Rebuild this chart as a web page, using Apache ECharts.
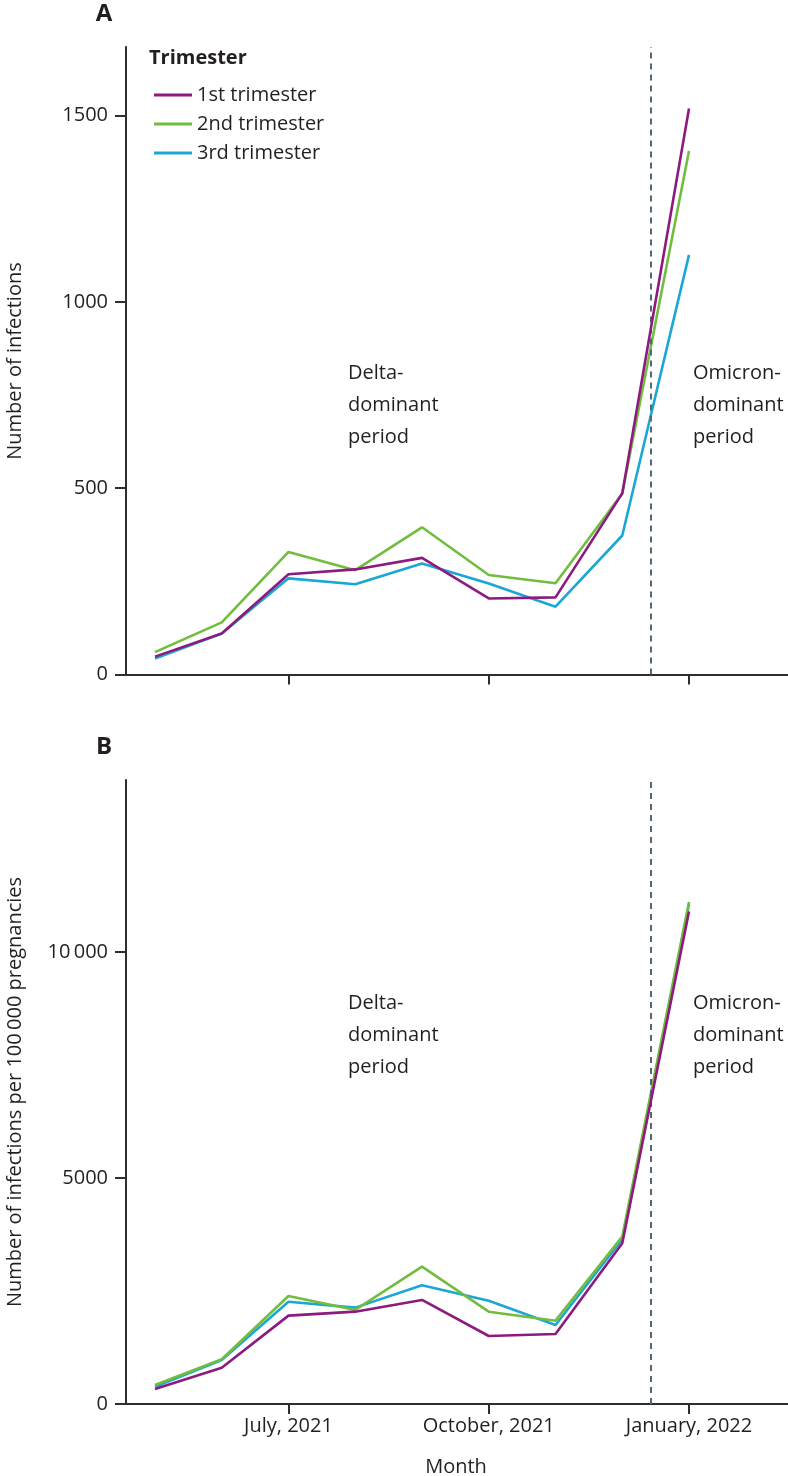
<!DOCTYPE html>
<html>
<head>
<meta charset="utf-8">
<script src="https://cdn.jsdelivr.net/npm/echarts@6/dist/echarts.min.js"></script>
<style>
html,body{margin:0;padding:0;background:#fff;}
#chart{width:788px;height:1476px;}
</style>
</head>
<body>
<div id="chart"></div>
<script>
// Months (one point per month)
const months = ['May 2021','Jun 2021','Jul 2021','Aug 2021','Sep 2021','Oct 2021','Nov 2021','Dec 2021','Jan 2022'];
const tickMonthIdx = [2, 5, 8];
const tickLabels = ['July, 2021', 'October, 2021', 'January, 2022'];
const seriesNames = ['1st trimester', '2nd trimester', '3rd trimester'];

// Panel A: number of infections
const infFirst  = [48, 110, 269, 282, 313, 204, 207, 486, 1519];
const infSecond = [60, 140, 329, 280, 395, 267, 245, 486, 1405];
const infThird  = [43, 110, 258, 242, 298, 244, 182, 373, 1126];

// Panel B: number of infections per 100 000 pregnancies
const rateFirst  = [332, 803, 1954, 2042, 2301, 1504, 1549, 3555, 10891];
const rateSecond = [420, 989, 2389, 2080, 3038, 2042, 1843, 3701, 11100];
const rateThird  = [383, 973, 2263, 2131, 2626, 2285, 1748, 3644, 11060];

const yTicksA = [0, 500, 1000, 1500];
const yTicksB = [0, 5000, 10000];
const yLabelsB = {0: '0', 5000: '5000', 10000: '10\u2009000'};

// Omicron-dominant period begins (month index, mid-December 2021)
const omicronStart = 7.43;

const colors = ['#8c1a7f', '#72bd3f', '#1aa7d4'];
const FONT = '"Open Sans", "Noto Sans", sans-serif';
const axisColor = '#2e2e2e';
const textColor = '#231f20';

const chart = echarts.init(document.getElementById('chart'), null, {renderer: 'canvas'});

function xAxisDef(gridIndex, showLabels) {
  return {
    type: 'value', gridIndex: gridIndex,
    min: -0.4345, max: 9.483,
    splitLine: {show: false},
    axisLine: {show: true, onZero: false, lineStyle: {color: axisColor, width: 2}},
    axisTick: {show: true, length: 10, lineStyle: {color: axisColor, width: 2}, customValues: tickMonthIdx},
    axisLabel: {
      show: showLabels, customValues: tickMonthIdx, margin: 12,
      fontFamily: FONT, fontSize: 20, color: textColor,
      formatter: v => tickLabels[tickMonthIdx.indexOf(Math.round(v))] || ''
    }
  };
}
function yAxisDef(gridIndex, max, ticks, fmt) {
  return {
    type: 'value', gridIndex: gridIndex, min: 0, max: max,
    splitLine: {show: false},
    axisLine: {show: true, onZero: false, lineStyle: {color: axisColor, width: 2}},
    axisTick: {show: true, length: 11, lineStyle: {color: axisColor, width: 2}, customValues: ticks},
    axisLabel: {
      customValues: ticks, margin: 18,
      fontFamily: FONT, fontSize: 20, color: textColor,
      formatter: fmt
    }
  };
}
function lineSeries(name, idx, data, gridIdx) {
  return {
    name: name, type: 'line',
    xAxisIndex: gridIdx, yAxisIndex: gridIdx,
    data: data.map((v, i) => [i, v]),
    symbol: 'none', smooth: false,
    lineStyle: {color: colors[idx], width: 2.6},
    itemStyle: {color: colors[idx]},
    z: 3 - idx + 2
  };
}
const dashLine = {
  silent: true, symbol: 'none', label: {show: false},
  lineStyle: {color: '#4e6878', width: 2, type: [6, 5]},
  data: [{xAxis: omicronStart}]
};

const sA = [infFirst, infSecond, infThird].map((d, i) => lineSeries(seriesNames[i], i, d, 0));
const sB = [rateFirst, rateSecond, rateThird].map((d, i) => lineSeries(seriesNames[i], i, d, 1));
sA[0].markLine = dashLine;
sB[0].markLine = JSON.parse(JSON.stringify(dashLine));
const allSeries = [sA[2], sA[1], sA[0], sB[2], sB[0], sB[1]];

function textEl(x, y, txt, opts) {
  return Object.assign({
    type: 'text', x: x, y: y,
    style: Object.assign({
      text: txt, fontFamily: FONT, fontSize: 20, fill: textColor,
      textVerticalAlign: 'middle', textAlign: 'left'
    }, (opts && opts.style) || {})
  }, (opts && opts.el) || {});
}

const annLineH = 32;
function annotation(x, yTop, lines) {
  return lines.map((t, i) => textEl(x, yTop + i * annLineH, t));
}

chart.setOption({
  animation: false,
  backgroundColor: '#ffffff',
  grid: [
    {left: 126, top: 47, right: 0, height: 627.5},
    {left: 126, top: 780, right: 0, height: 624}
  ],
  xAxis: [xAxisDef(0, false), xAxisDef(1, true)],
  yAxis: [
    yAxisDef(0, 1684, yTicksA, v => String(v)),
    yAxisDef(1, 13800, yTicksB, v => yLabelsB[v] !== undefined ? yLabelsB[v] : '')
  ],
  legend: {
    data: seriesNames.map((n, i) => ({name: n, icon: 'rect', itemStyle: {color: colors[i]}})),
    orient: 'vertical', left: 149, top: 80,
    itemWidth: 38, itemHeight: 3, itemGap: 9,
    textStyle: {fontFamily: FONT, fontSize: 20, color: textColor, lineHeight: 20},
    selectedMode: false
  },
  series: allSeries,
  graphic: [
    textEl(104, 14, 'A', {style: {fontWeight: 'bold', fontSize: 24, textAlign: 'center'}}),
    textEl(104, 747, 'B', {style: {fontWeight: 'bold', fontSize: 24, textAlign: 'center'}}),
    textEl(149, 58, 'Trimester', {style: {fontWeight: 'bold'}}),
    textEl(15, 361, 'Number of infections', {el: {rotation: Math.PI / 2}, style: {textAlign: 'center'}}),
    textEl(15, 1092, 'Number of infections per 100\u2009000 pregnancies', {el: {rotation: Math.PI / 2}, style: {textAlign: 'center'}}),
    textEl(456, 1467, 'Month', {style: {textAlign: 'center'}}),
    ...annotation(348, 373, ['Delta-', 'dominant', 'period']),
    ...annotation(693, 373, ['Omicron-', 'dominant', 'period']),
    ...annotation(348, 1003, ['Delta-', 'dominant', 'period']),
    ...annotation(693, 1003, ['Omicron-', 'dominant', 'period'])
  ]
});
</script>
</body>
</html>
